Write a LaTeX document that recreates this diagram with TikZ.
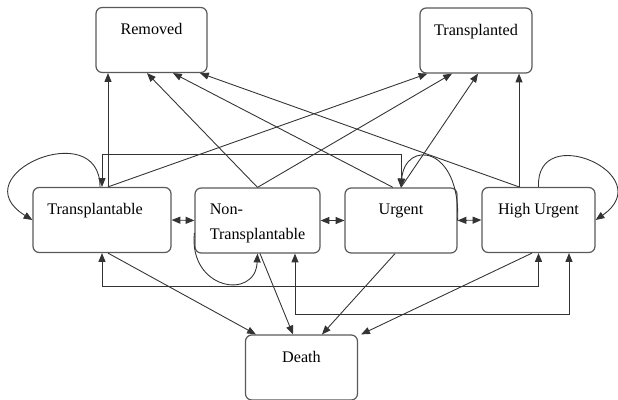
\documentclass[tikz,border=0pt]{standalone}
\usepackage{fontspec}
\setmainfont{Liberation Serif}
\usepackage{tikz}
\usetikzlibrary{arrows.meta}

\begin{document}
\begin{tikzpicture}[x=0.02cm, y=-0.02cm,
    >={Triangle[length=5pt,width=4pt]},
    state/.style={shape=rectangle, rounded corners=3.5pt, draw=black!65, line width=0.7pt, minimum height=1.3cm, inner sep=0pt},
    lbl/.style={anchor=north, inner sep=0pt, yshift=-0.33cm, align=left, font=\rmfamily\fontsize{9.2}{14.2}\selectfont},
    link/.style={draw=black!80, line width=0.5pt}]
    \useasboundingbox (0,0) rectangle (618,399);

    \node[state, minimum width=2.22cm, label={[lbl]north:Removed}] (rem) at (151.5,40) {};
    \node[state, minimum width=2.24cm, label={[lbl]north:Transplanted}] (tpd) at (476,40.5) {};
    \node[state, minimum width=2.76cm, label={[lbl,xshift=-0.14cm]north:Transplantable}] (tpb) at (102,220) {};
    \node[state, minimum width=2.5cm, label={[lbl]north:{Non-\\Transplantable}}] (ntp) at (257.5,220.5) {};
    \node[state, minimum width=2.24cm, label={[lbl]north:Urgent}] (urg) at (401,220.5) {};
    \node[state, minimum width=2.26cm, label={[lbl]north:High Urgent}] (hur) at (538.5,220) {};
    \node[state, minimum width=2.24cm, label={[lbl]north:Death}] (dth) at (301.5,367.5) {};

    \draw[link,->] ([xshift=0.12cm]tpb.north) -- ([xshift=0.12cm]tpb.north |- rem.south);
    \draw[link,->] ([xshift=0.12cm]tpb.north) -- ([xshift=0.16cm]tpd.south west);
    \draw[link,->] (ntp.north) -- ([xshift=-0.09cm]rem.south);
    \draw[link,->] (ntp.north) -- ([xshift=-0.48cm]tpd.south);
    \draw[link,->] ([xshift=-0.16cm]urg.north) -- ([xshift=0.43cm]rem.south);
    \draw[link,->] (urg.north) -- ([xshift=0.04cm]tpd.south);
    \draw[link,->] ([xshift=-0.39cm]hur.north) -- ([xshift=0.97cm]rem.south);
    \draw[link,->] ([xshift=-0.39cm]hur.north) -- ([xshift=-0.39cm]hur.north |- tpd.south);

    \draw[link,->] ([xshift=-0.04cm]tpb.north) .. controls +(0,1.44cm) and +(-1.46cm,0.9cm) .. (tpb.west);
    \draw[link,->] ([yshift=-0.25cm]ntp.west) .. controls +(-0.12cm,-1.14cm) and +(-0.04cm,-0.94cm) .. (ntp.south);
    \draw[link,->] (urg.east) .. controls +(0.06cm,1.5cm) and +(0.08cm,0.96cm) .. (urg.north);
    \draw[link,->] (hur.north) .. controls +(-0.06cm,1.34cm) and +(1.3cm,0.9cm) .. (hur.east);

    \draw[link,<->] (tpb.east) -- (ntp.west);
    \draw[link,<->] (ntp.east) -- (urg.west);
    \draw[link,<->] (urg.east) -- (hur.west);

    \draw[link,<->] (tpb.north) -- ++(0,0.64cm) -| (urg.north);
    \draw[link,<->] (tpb.south) -- ++(0,-0.66cm) -| (hur.south);
    \draw[link,<->] ([xshift=0.75cm]ntp.south) -- ++(0,-1.22cm) -| ([xshift=0.61cm]hur.south);

    \draw[link,->] ([xshift=0.12cm]tpb.south) -- ([xshift=0.22cm]dth.north west);
    \draw[link,->] ([xshift=0.05cm]ntp.south) -- ([xshift=-0.17cm]dth.north);
    \draw[link,->] ([xshift=-0.12cm]urg.south) -- ([xshift=0.41cm]dth.north);
    \draw[link,->] ([xshift=-0.13cm]hur.south) -- ([xshift=0.06cm]dth.north east);
\end{tikzpicture}
\end{document}
